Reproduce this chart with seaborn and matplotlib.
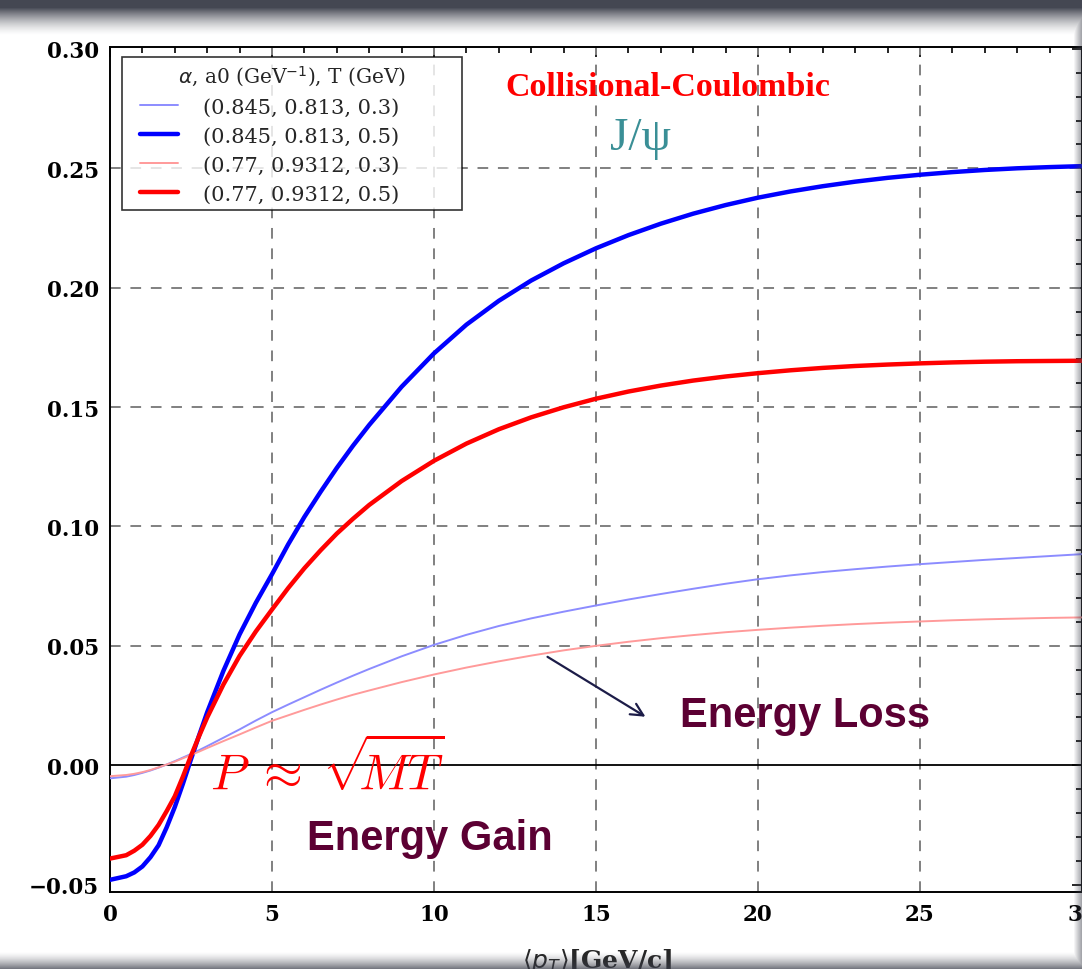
import numpy as np
import pandas as pd
import matplotlib
matplotlib.use("Agg")
import matplotlib.pyplot as plt
import seaborn as sns
from matplotlib.ticker import MultipleLocator
from matplotlib.lines import Line2D
from matplotlib.legend_handler import HandlerLine2D

# Transverse momentum grid (GeV/c)
pt = [0, 0.5, 0.75, 1, 1.25, 1.5, 1.75, 2, 2.25, 2.5, 2.75, 3, 3.5, 4, 4.5,
      5, 5.5, 6, 6.5, 7, 7.5, 8, 9, 10, 11, 12, 13, 14, 15, 16, 17, 18, 19,
      20, 21, 22, 23, 24, 25, 26, 27, 28, 29, 30]

# (alpha, a0, T) = (0.845, 0.813, 0.3)
blue_T03 = [-0.0055, -0.0048, -0.0041, -0.0032, -0.0022, -0.0010, 0.0003,
            0.0017, 0.0032, 0.0047, 0.0063, 0.0080, 0.0115, 0.0150, 0.0187,
            0.0222, 0.0254, 0.0285, 0.0316, 0.0346, 0.0375, 0.0403, 0.0456,
            0.0504, 0.0546, 0.0583, 0.0615, 0.0643, 0.0669, 0.0694, 0.0717,
            0.0739, 0.0760, 0.0779, 0.0795, 0.0809, 0.0821, 0.0832, 0.0842,
            0.0851, 0.0860, 0.0868, 0.0876, 0.0884]
# (alpha, a0, T) = (0.845, 0.813, 0.5)
blue_T05 = [-0.0480, -0.0465, -0.0449, -0.0424, -0.0385, -0.0335, -0.0260,
            -0.0175, -0.0078, 0.0025, 0.0125, 0.0222, 0.0395, 0.0548, 0.0680,
            0.0800, 0.0925, 0.1040, 0.1145, 0.1245, 0.1338, 0.1425, 0.1585,
            0.1725, 0.1845, 0.1945, 0.2030, 0.2102, 0.2165, 0.2220, 0.2268,
            0.2310, 0.2346, 0.2377, 0.2403, 0.2425, 0.2444, 0.2460, 0.2473,
            0.2484, 0.2493, 0.2500, 0.2505, 0.2509]
# (alpha, a0, T) = (0.77, 0.9312, 0.3)
red_T03 = [-0.0046, -0.0041, -0.0036, -0.0029, -0.0020, -0.0009, 0.0003,
           0.0015, 0.0029, 0.0043, 0.0057, 0.0072, 0.0101, 0.0129, 0.0158,
           0.0186, 0.0209, 0.0232, 0.0254, 0.0275, 0.0295, 0.0313, 0.0348,
           0.0380, 0.0409, 0.0435, 0.0459, 0.0481, 0.0500, 0.0517, 0.0532,
           0.0545, 0.0557, 0.0567, 0.0576, 0.0584, 0.0591, 0.0597, 0.0602,
           0.0607, 0.0611, 0.0614, 0.0617, 0.0619]
# (alpha, a0, T) = (0.77, 0.9312, 0.5)
red_T05 = [-0.0391, -0.0377, -0.0358, -0.0333, -0.0296, -0.0250, -0.0192,
           -0.0130, -0.0048, 0.0040, 0.0122, 0.0200, 0.0338, 0.0458, 0.0560,
           0.0652, 0.0742, 0.0825, 0.0900, 0.0970, 0.1032, 0.1090, 0.1190,
           0.1275, 0.1347, 0.1407, 0.1457, 0.1499, 0.1535, 0.1565, 0.1590,
           0.1611, 0.1628, 0.1642, 0.1654, 0.1664, 0.1672, 0.1678, 0.1683,
           0.1687, 0.1690, 0.1692, 0.1693, 0.1694]

labels = ["(0.845, 0.813, 0.3)", "(0.845, 0.813, 0.5)",
          "(0.77, 0.9312, 0.3)", "(0.77, 0.9312, 0.5)"]
series = [blue_T03, blue_T05, red_T03, red_T05]
colors = ["#8c8cff", "#0000ff", "#ff9a9a", "#ff0000"]
widths = [1.4, 3.2, 1.4, 3.2]

df = pd.concat([pd.DataFrame({"pt": pt, "val": s, "set": lab})
                for s, lab in zip(series, labels)], ignore_index=True)

sns.set_theme(style="white")
plt.rcParams["font.family"] = ["DejaVu Serif", "DejaVu Sans"]

W, H = 1082, 970
fig = plt.figure(figsize=(W / 100, H / 100), dpi=100)
fig.patch.set_facecolor("white")
ax = fig.add_axes([110 / W, 77 / H, 972 / W, 845 / H])

for lab, col, lw in zip(labels, colors, widths):
    sns.lineplot(data=df[df["set"] == lab], x="pt", y="val", color=col,
                 linewidth=lw, ax=ax, legend=False, zorder=3)

ax.set_xlim(0, 30)
ax.set_ylim(-0.0531, 0.3008)
ax.axhline(0, color="black", lw=1.3, zorder=2)

# dashed grid on the major ticks
dash = (0, (5.5, 5))
for gx in [5, 10, 15, 20, 25]:
    ax.axvline(gx, color="#808080", lw=1.4, ls=dash, zorder=1)
for gy in [0.05, 0.10, 0.15, 0.20, 0.25]:
    ax.axhline(gy, color="#808080", lw=1.4, ls=dash, zorder=1)

ax.xaxis.set_major_locator(MultipleLocator(5))
ax.xaxis.set_minor_locator(MultipleLocator(1))
ax.yaxis.set_major_locator(MultipleLocator(0.05))
ax.yaxis.set_minor_locator(MultipleLocator(0.01))
ax.tick_params(which="both", direction="in", top=True, right=True,
               color="black", width=1.2)
ax.tick_params(which="major", length=7)
ax.tick_params(which="minor", length=4)
ax.set_xticklabels([f"{int(v)}" for v in ax.get_xticks()])
ax.set_yticklabels([f"{v:.2f}".replace("-", "\u2212") for v in ax.get_yticks()])
for t in ax.get_xticklabels() + ax.get_yticklabels():
    t.set_fontweight("bold")
    t.set_fontsize(15.5)
    t.set_color("black")
ax.tick_params(axis="x", pad=8)
ax.tick_params(axis="y", pad=8)
for sp in ax.spines.values():
    sp.set_color("black")
    sp.set_linewidth(1.4)
ax.set_xlabel("")
ax.set_ylabel("")

fig.text(597 / W, (H - 947) / H, r"$\langle p_T\rangle$[GeV/c]",
         ha="center", va="top", fontsize=18, fontweight="bold")

handles = [Line2D([], [], color=c, lw=w) for c, w in zip(colors, widths)]
leg_h = 150 / 845
leg = ax.legend(handles, labels, title=r"$\alpha$, a0 (GeV$^{-1}$), T (GeV)",
                loc="upper left", mode="expand",
                bbox_to_anchor=(12 / 972, 0.988 - leg_h, 340 / 972, leg_h),
                borderaxespad=0, frameon=True, fancybox=False,
                edgecolor="black", fontsize=15, title_fontsize=14.5,
                handlelength=2.4, handletextpad=1.2, labelspacing=0.48,
                borderpad=0.3,
                handler_map={Line2D: HandlerLine2D(xpad=0.55)})
leg.get_frame().set_linewidth(1.2)
leg.set_zorder(5)

ax.text(17.22, 0.2843, "Collisional-Coulombic", color="#ff0000",
        fontsize=24.5, fontweight="bold", family="Liberation Serif",
        ha="center", va="center")
ax.text(16.36, 0.2626, "J/\u03c8", color="#3a8f96", fontsize=34,
        family="Liberation Serif", ha="center", va="center")
ax.text(3.09, -0.0094, r"$P\;\approx\;\sqrt{\!\!MT}$", color="#ff0000",
        fontsize=36, math_fontfamily="cm", ha="left", va="baseline")
ax.text(6.08, -0.0352, "Energy Gain", color="#5c0033", fontsize=30,
        fontweight="bold", family="Liberation Sans", ha="left", va="baseline")
ax.text(17.59, 0.0165, "Energy Loss", color="#5c0033", fontsize=30,
        fontweight="bold", family="Liberation Sans", ha="left", va="baseline")
ax.annotate("", xy=(16.6, 0.0197), xytext=(13.43, 0.046),
            arrowprops=dict(arrowstyle="->", color="#1c1c48", lw=1.6,
                            mutation_scale=22))

# dark shading along the top, right and bottom edges of the frame
ov = fig.add_axes([0, 0, 1, 1], zorder=10)
ov.set_axis_off()
yy = np.arange(H)[:, None]
xx = np.arange(W)[None, :]
top = np.clip(1 - (yy - 8) / 28.0, 0, 1) ** 1.5
bot = np.clip((yy - (H - 18)) / 18.0, 0, 1) ** 1.5 * 0.8
right = np.clip((xx - (W - 9)) / 9.0, 0, 1) * 0.55
alpha = np.clip(np.maximum(np.maximum(top, bot), right), 0, 1)
rgba = np.zeros((H, W, 4))
rgba[..., 0] = 0.23
rgba[..., 1] = 0.24
rgba[..., 2] = 0.29
rgba[..., 3] = alpha * 0.95
ov.imshow(rgba, extent=(0, 1, 0, 1), aspect="auto", interpolation="bilinear")
ov.set_xlim(0, 1)
ov.set_ylim(0, 1)

fig.savefig("out.png", dpi=100, facecolor="white")
